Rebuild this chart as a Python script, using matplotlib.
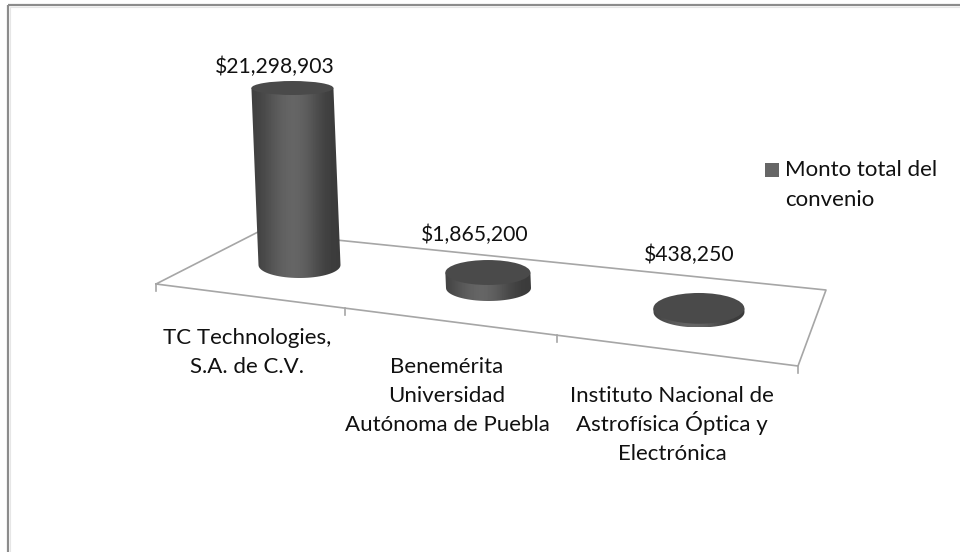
import matplotlib
matplotlib.use('Agg')
import matplotlib.pyplot as plt
import numpy as np
from matplotlib.patches import Ellipse, PathPatch, Rectangle
from matplotlib.path import Path

plt.rcParams['font.family'] = ['Lato', 'DejaVu Sans']

categories = ['TC Technologies,\nS.A. de C.V.',
              'Benemérita\nUniversidad\nAutónoma de Puebla',
              'Instituto Nacional de\nAstrofísica Óptica y\nElectrónica']
values = [21298903, 1865200, 438250]
value_labels = ['$21,298,903', '$1,865,200', '$438,250']
series_name = 'Monto total del\nconvenio'

# layout, figure pixels
base_x = [299.5, 488.5, 699]
base_y = [265, 288, 312]
base_rx = [41, 42.5, 45.5]
base_ry = [13, 13, 15.5]
label_x = [275, 475, 689]
label_y = [73, 241, 261]
cat_x = [247, 447, 672]
cat_y = [344, 373, 402]
line_step = 29
px_per_value = 177 / 21298903

fig = plt.figure(figsize=(9.6, 5.52), dpi=100)
ax = fig.add_axes([0, 0, 1, 1])
ax.set_xlim(0, 960)
ax.set_ylim(552, 0)
ax.axis('off')

# frame, only top and left show
ax.plot([8, 8], [552, 5], color='#8c8c8c', lw=1.6, solid_capstyle='butt', zorder=1)
ax.plot([8, 960], [5, 5], color='#8c8c8c', lw=1.6, solid_capstyle='butt', zorder=1)
ax.plot([10, 10], [552, 7], color='#e6e6e6', lw=0.8, zorder=1)
ax.plot([10, 960], [7, 7], color='#e6e6e6', lw=0.8, zorder=1)

# floor
floor_x = [156, 258, 826, 798, 156]
floor_y = [284, 232, 290, 366, 284]
ax.plot(floor_x, floor_y, color='#a6a6a6', lw=1.2, zorder=2)
for tx, ty in [(156, 284), (345, 308), (557, 335), (798, 366)]:
    ax.plot([tx, tx], [ty, ty + 7], color='#a6a6a6', lw=1.2, zorder=2)

shade = np.array([0.25, 0.29, 0.34, 0.38, 0.40, 0.39, 0.35, 0.29, 0.25, 0.23]).reshape(1, -1)
for i in range(len(values)):
    h = values[i] * px_per_value
    x0, y0, rx, ry = base_x[i], base_y[i], base_rx[i], base_ry[i]
    xt = x0 - h * 0.04
    yt = y0 - h
    ry_top = ry - h / 177 * 6
    # side with lower arc of the base
    t = np.linspace(np.pi, 0, 40)
    arc = np.column_stack([x0 + rx * np.cos(t), y0 + ry * np.sin(t)])
    verts = np.vstack([[xt - rx, yt], arc, [xt + rx, yt], [xt - rx, yt]])
    side = PathPatch(Path(verts), transform=ax.transData, fc='none', ec='none')
    ax.add_patch(side)
    im = ax.imshow(shade, extent=(x0 - rx - 8, x0 + rx, y0 + ry, yt), cmap='gray',
                   vmin=0, vmax=1, aspect='auto', interpolation='bicubic', zorder=3)
    im.set_clip_path(side)
    ax.add_patch(Ellipse((xt, yt), 2 * rx, 2 * ry_top, fc='#4a4a4a', ec='none', zorder=4))
    ax.text(label_x[i], label_y[i], value_labels[i], fontsize=15.2, color='#111111',
            ha='center', va='baseline', zorder=5)
    # one text per line, the accent on the O breaks the line spacing otherwise
    for j, line in enumerate(categories[i].split('\n')):
        ax.text(cat_x[i], cat_y[i] + j * line_step, line, fontsize=16, color='#111111',
                ha='center', va='baseline', zorder=5)

ax.set_xlim(0, 960)
ax.set_ylim(552, 0)

# legend
ax.add_patch(Rectangle((765, 163), 14, 14, fc='#666666', ec='none', zorder=5))
for j, line in enumerate(series_name.split('\n')):
    ax.text(785, 176 + j * 30, line, fontsize=16, color='#111111', ha='left', va='baseline',
            zorder=5)

plt.savefig('out.png', dpi=100)
